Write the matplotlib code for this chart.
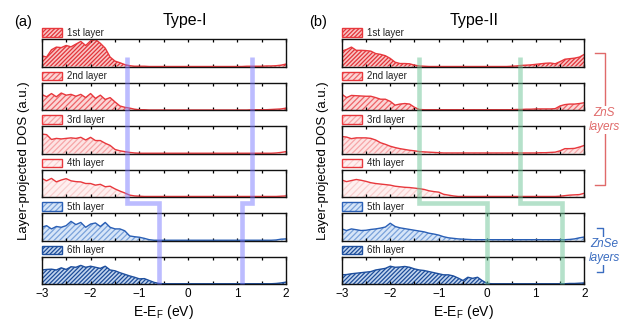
import matplotlib
matplotlib.use("Agg")
import matplotlib.pyplot as plt
from matplotlib.lines import Line2D
from matplotlib.patches import Rectangle
from matplotlib.transforms import blended_transform_factory
from matplotlib.ticker import MultipleLocator

plt.rcParams['font.family'] = ['Liberation Sans', 'DejaVu Sans']
plt.rcParams['mathtext.fontset'] = 'custom'
plt.rcParams['mathtext.rm'] = 'Liberation Sans'
plt.rcParams['mathtext.it'] = 'Liberation Sans:italic'
plt.rcParams['hatch.linewidth'] = 0.9

# ---------------- data ----------------
energy = [-3.0, -2.9, -2.8, -2.7, -2.6, -2.5, -2.4, -2.3, -2.2, -2.1,
          -2.0, -1.9, -1.8, -1.7, -1.6, -1.5, -1.4, -1.3, -1.2, -1.1,
          -1.0, -0.9, -0.8, -0.7, -0.6, -0.5, -0.4, -0.3, -0.2, -0.1,
          0.0, 0.1, 0.2, 0.3, 0.4, 0.5, 0.6, 0.7, 0.8, 0.9,
          1.0, 1.1, 1.2, 1.3, 1.4, 1.5, 1.6, 1.7, 1.8, 1.9, 2.0]

layer_labels = ["1st layer", "2nd layer", "3rd layer", "4th layer", "5th layer", "6th layer"]

# Type-I heterostructure, layer-projected DOS
type1_layer1 = [0.40, 0.35, 0.62, 0.72, 0.70, 0.78, 0.73, 0.83, 0.93, 0.78,
                0.95, 1.00, 0.86, 0.68, 0.35, 0.20, 0.14, 0.07, 0.03, 0.01,
                0.01, 0.01, 0.00, 0.00, 0.00, 0.00, 0.00, 0.00, 0.00, 0.00,
                0.00, 0.00, 0.00, 0.00, 0.00, 0.00, 0.00, 0.00, 0.00, 0.00,
                0.00, 0.00, 0.01, 0.01, 0.01, 0.01, 0.02, 0.02, 0.03, 0.05, 0.09]
type1_layer2 = [0.58, 0.49, 0.61, 0.49, 0.63, 0.55, 0.58, 0.51, 0.58, 0.46,
                0.61, 0.43, 0.55, 0.39, 0.46, 0.30, 0.15, 0.10, 0.07, 0.03,
                0.01, 0.01, 0.00, 0.00, 0.00, 0.00, 0.00, 0.00, 0.00, 0.00,
                0.00, 0.00, 0.00, 0.00, 0.00, 0.00, 0.00, 0.00, 0.00, 0.00,
                0.00, 0.00, 0.00, 0.01, 0.01, 0.01, 0.01, 0.02, 0.03, 0.04, 0.07]
type1_layer3 = [0.72, 0.70, 0.52, 0.56, 0.54, 0.56, 0.58, 0.56, 0.60, 0.50,
                0.60, 0.48, 0.48, 0.38, 0.30, 0.15, 0.10, 0.07, 0.04, 0.02,
                0.01, 0.01, 0.01, 0.01, 0.01, 0.01, 0.01, 0.01, 0.01, 0.01,
                0.01, 0.01, 0.01, 0.01, 0.01, 0.01, 0.01, 0.01, 0.01, 0.01,
                0.01, 0.01, 0.01, 0.01, 0.01, 0.01, 0.01, 0.01, 0.02, 0.04, 0.07]
type1_layer4 = [0.69, 0.60, 0.69, 0.56, 0.63, 0.68, 0.60, 0.57, 0.56, 0.50,
                0.50, 0.44, 0.47, 0.38, 0.40, 0.30, 0.22, 0.15, 0.07, 0.04,
                0.03, 0.02, 0.02, 0.02, 0.02, 0.02, 0.02, 0.02, 0.02, 0.02,
                0.02, 0.02, 0.02, 0.02, 0.02, 0.02, 0.02, 0.02, 0.02, 0.02,
                0.02, 0.02, 0.02, 0.02, 0.02, 0.02, 0.02, 0.02, 0.02, 0.03, 0.04]
type1_layer5 = [0.49, 0.55, 0.43, 0.52, 0.49, 0.55, 0.71, 0.59, 0.67, 0.49,
                0.61, 0.65, 0.52, 0.67, 0.49, 0.43, 0.43, 0.36, 0.17, 0.14,
                0.12, 0.08, 0.03, 0.01, 0.01, 0.01, 0.01, 0.01, 0.01, 0.01,
                0.01, 0.01, 0.01, 0.01, 0.01, 0.01, 0.01, 0.01, 0.01, 0.01,
                0.01, 0.01, 0.01, 0.01, 0.01, 0.01, 0.01, 0.01, 0.02, 0.05, 0.06]
type1_layer6 = [0.52, 0.54, 0.55, 0.52, 0.60, 0.54, 0.64, 0.62, 0.69, 0.62,
                0.66, 0.62, 0.58, 0.66, 0.52, 0.49, 0.42, 0.36, 0.30, 0.25,
                0.19, 0.20, 0.13, 0.06, 0.02, 0.01, 0.01, 0.01, 0.01, 0.01,
                0.01, 0.01, 0.01, 0.01, 0.01, 0.01, 0.01, 0.01, 0.01, 0.01,
                0.01, 0.01, 0.01, 0.01, 0.01, 0.01, 0.01, 0.01, 0.02, 0.04, 0.07]

# Type-II heterostructure, layer-projected DOS
type2_layer1 = [0.57, 0.63, 0.72, 0.60, 0.60, 0.59, 0.57, 0.48, 0.45, 0.40,
                0.30, 0.16, 0.11, 0.11, 0.10, 0.05, 0.02, 0.01, 0.00, 0.00,
                0.00, 0.00, 0.00, 0.00, 0.00, 0.00, 0.00, 0.00, 0.00, 0.00,
                0.00, 0.00, 0.00, 0.00, 0.00, 0.01, 0.02, 0.04, 0.05, 0.06,
                0.08, 0.10, 0.12, 0.13, 0.10, 0.18, 0.27, 0.29, 0.31, 0.35, 0.45]
type2_layer2 = [0.59, 0.46, 0.54, 0.53, 0.52, 0.51, 0.51, 0.46, 0.40, 0.40,
                0.32, 0.18, 0.22, 0.24, 0.22, 0.10, 0.02, 0.01, 0.01, 0.01,
                0.01, 0.01, 0.01, 0.01, 0.01, 0.01, 0.01, 0.01, 0.01, 0.01,
                0.01, 0.01, 0.01, 0.01, 0.01, 0.01, 0.02, 0.02, 0.03, 0.03,
                0.04, 0.04, 0.04, 0.04, 0.05, 0.15, 0.20, 0.22, 0.22, 0.24, 0.27]
type2_layer3 = [0.63, 0.61, 0.55, 0.58, 0.58, 0.58, 0.56, 0.50, 0.40, 0.34,
                0.27, 0.22, 0.18, 0.15, 0.12, 0.10, 0.07, 0.06, 0.05, 0.04,
                0.03, 0.02, 0.02, 0.02, 0.02, 0.02, 0.02, 0.02, 0.02, 0.02,
                0.02, 0.02, 0.02, 0.02, 0.02, 0.02, 0.02, 0.02, 0.02, 0.02,
                0.02, 0.03, 0.03, 0.04, 0.05, 0.10, 0.18, 0.18, 0.19, 0.24, 0.30]
type2_layer4 = [0.63, 0.57, 0.61, 0.65, 0.62, 0.58, 0.53, 0.50, 0.48, 0.46,
                0.44, 0.40, 0.38, 0.36, 0.35, 0.33, 0.31, 0.28, 0.23, 0.20,
                0.18, 0.10, 0.07, 0.04, 0.02, 0.02, 0.02, 0.02, 0.02, 0.02,
                0.02, 0.02, 0.02, 0.02, 0.02, 0.02, 0.02, 0.02, 0.02, 0.02,
                0.02, 0.02, 0.02, 0.02, 0.02, 0.03, 0.05, 0.07, 0.08, 0.09, 0.14]
type2_layer5 = [0.43, 0.37, 0.43, 0.40, 0.37, 0.38, 0.41, 0.43, 0.46, 0.50,
                0.64, 0.52, 0.47, 0.44, 0.41, 0.38, 0.35, 0.32, 0.27, 0.24,
                0.20, 0.14, 0.10, 0.08, 0.06, 0.05, 0.04, 0.03, 0.03, 0.03,
                0.03, 0.03, 0.03, 0.03, 0.03, 0.03, 0.03, 0.03, 0.03, 0.03,
                0.03, 0.03, 0.03, 0.03, 0.03, 0.03, 0.03, 0.04, 0.06, 0.10, 0.13]
type2_layer6 = [0.34, 0.35, 0.38, 0.40, 0.42, 0.44, 0.46, 0.52, 0.55, 0.58,
                0.66, 0.62, 0.63, 0.65, 0.62, 0.56, 0.52, 0.50, 0.46, 0.42,
                0.38, 0.34, 0.34, 0.30, 0.22, 0.13, 0.25, 0.21, 0.25, 0.12,
                0.02, 0.01, 0.01, 0.01, 0.01, 0.01, 0.01, 0.01, 0.01, 0.01,
                0.01, 0.01, 0.01, 0.01, 0.01, 0.01, 0.01, 0.02, 0.02, 0.03, 0.04]

# band edges (eV): [ZnS side, ZnSe side]
type1_vbm = [-1.25, -0.60]
type1_cbm = [1.30, 1.10]
type2_vbm = [-1.40, 0.00]
type2_cbm = [0.68, 1.55]

type1_dos = [type1_layer1, type1_layer2, type1_layer3, type1_layer4, type1_layer5, type1_layer6]
type2_dos = [type2_layer1, type2_layer2, type2_layer3, type2_layer4, type2_layer5, type2_layer6]

# ---------------- styles ----------------
RED = '#e8383d'
BLUE = '#2a5fb5'
layer_styles = [
    dict(line=RED, face='#f9c4c4', hatch='////////', hcol='#e2343a'),
    dict(line=RED, face='#fbd6d6', hatch='//////', hcol='#ee6468'),
    dict(line=RED, face='#fde3e3', hatch='//////', hcol='#f6a5a7'),
    dict(line=RED, face='#fef0f0', hatch='/////', hcol='#f9cfcf'),
    dict(line=BLUE, face='#d6e5f8', hatch='//////', hcol='#7aa2da'),
    dict(line='#1e4f9e', face='#c2d5ef', hatch='////////', hcol='#1d4c98'),
]

W, H = 631, 328
fig = plt.figure(figsize=(W / 100, H / 100), dpi=100)


def fx(px):
    return px / W


def fy(py):
    return 1 - py / H


panel_tops = [39.0, 82.5, 126.0, 169.5, 213.0, 256.5]
panel_h = 27.5


def draw_column(x_left, x_right, dos_list, vbm, cbm, band_color, band_alpha,
                title, title_x, tag, tag_x, ylab_x):
    axes = []
    for i, (dos, st) in enumerate(zip(dos_list, layer_styles)):
        top = panel_tops[i]
        ax = fig.add_axes([fx(x_left), fy(top + panel_h), fx(x_right - x_left), panel_h / H])
        ax.fill_between(energy, 0, dos, facecolor=st['face'], edgecolor=st['hcol'],
                        hatch=st['hatch'], linewidth=0, zorder=1)
        ax.plot(energy, dos, color=st['line'], lw=1.0, zorder=2)
        ax.set_xlim(-3, 2)
        ax.set_ylim(0, 1.02)
        ax.set_yticks([])
        ax.xaxis.set_major_locator(MultipleLocator(1))
        ax.xaxis.set_minor_locator(MultipleLocator(0.5))
        ax.tick_params(axis='x', which='both', direction='in', top=True, bottom=True,
                       length=2.5, width=0.9, labelsize=8.5, pad=3)
        for s in ax.spines.values():
            s.set_linewidth(1.0)
            s.set_color('#111111')
        if i < 5:
            ax.tick_params(axis='x', labelbottom=False)
        else:
            ax.set_xlabel(r'E-E$_\mathrm{F}$ (eV)', fontsize=10, labelpad=2)
        # legend key above the panel
        w_ax = 20 / (x_right - x_left)
        ax.add_patch(Rectangle((0, 1.08), w_ax, 0.31, transform=ax.transAxes, clip_on=False,
                               facecolor=st['face'], edgecolor=st['hcol'], hatch=st['hatch'],
                               linewidth=0))
        ax.add_patch(Rectangle((0, 1.08), w_ax, 0.31, transform=ax.transAxes, clip_on=False,
                               facecolor='none', edgecolor=st['line'], linewidth=1.0))
        ax.text(w_ax + 0.02, 1.235, layer_labels[i], transform=ax.transAxes,
                fontsize=7, va='center', ha='left', color='#222222')
        axes.append(ax)

    # band-edge guides running through the stack
    tr = blended_transform_factory(axes[-1].transData, fig.transFigure)
    y_top, y_mid, y_bot = fy(57), fy(203), fy(panel_tops[-1] + panel_h)
    for edge in (vbm, cbm):
        fig.add_artist(Line2D([edge[0], edge[0], edge[1], edge[1]], [y_top, y_mid, y_mid, y_bot],
                              transform=tr, color=band_color, lw=3.3, alpha=band_alpha,
                              solid_joinstyle='miter', solid_capstyle='butt', zorder=10))

    fig.text(fx(title_x), fy(21), title, fontsize=11.5, ha='center', va='center')
    fig.text(fx(tag_x), fy(22), tag, fontsize=10.5, ha='center', va='center')
    fig.text(fx(ylab_x), fy(161), 'Layer-projected DOS (a.u.)', fontsize=9.5,
             rotation=90, ha='center', va='center')
    return axes


draw_column(41.7, 286.0, type1_dos, type1_vbm, type1_cbm, '#7a7aff', 0.5,
            'Type-I', 185, '(a)', 23, 24)
draw_column(341.7, 584.3, type2_dos, type2_vbm, type2_cbm, '#6cc596', 0.5,
            'Type-II', 474, '(b)', 318, 323)

# material brackets on the right
zns_col = '#e06a6a'
znse_col = '#3a6cc0'
fig.add_artist(Line2D([fx(595), fx(605), fx(605), fx(595)], [fy(53), fy(53), fy(185), fy(185)],
                      color=zns_col, lw=1.0))
fig.text(fx(604), fy(120), 'ZnS\nlayers', color=zns_col, fontsize=8.5, style='italic',
         ha='center', va='center', linespacing=1.2,
         bbox=dict(facecolor='white', edgecolor='none', pad=1.0))
fig.add_artist(Line2D([fx(597), fx(603), fx(603), fx(597)], [fy(228), fy(228), fy(272), fy(272)],
                      color=znse_col, lw=1.0))
fig.text(fx(604), fy(251), 'ZnSe\nlayers', color=znse_col, fontsize=8.5, style='italic',
         ha='center', va='center', linespacing=1.2,
         bbox=dict(facecolor='white', edgecolor='none', pad=1.0))

fig.savefig('out.png', dpi=100)
